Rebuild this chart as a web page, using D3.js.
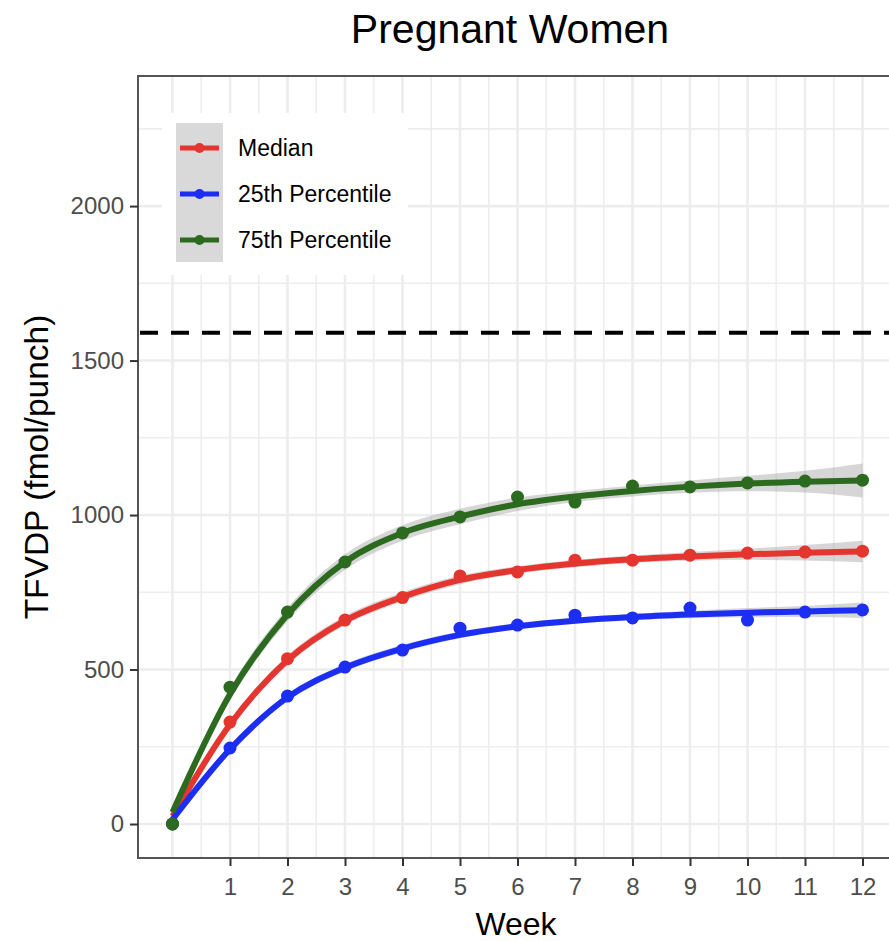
<!DOCTYPE html>
<html>
<head>
<meta charset="utf-8">
<script src="https://cdn.jsdelivr.net/npm/d3@7"></script>
<style>
  body { margin: 0; background: #fff; }
  text { font-family: "Liberation Sans", Arial, sans-serif; }
</style>
</head>
<body>
<div class="container"></div>
<script>
const weeks = [0, 1, 2, 3, 4, 5, 6, 7, 8, 9, 10, 11, 12];
const medianPts = [0, 330, 535, 660, 733, 803, 816, 854, 854, 870, 877, 880, 883];
const p25Pts    = [0, 246, 414, 508, 563, 634, 644, 676, 667, 699, 660, 686, 693];
const p75Pts    = [0, 443, 686, 848, 942, 994, 1058, 1042, 1094, 1091, 1104, 1110, 1113];

// smoothed fit (line) and half width of the grey band, also
const medianFit = [25, 322, 530, 658, 735, 790, 822, 843, 857, 866, 873, 878, 882];
const p25Fit    = [15, 242, 410, 506, 568, 612, 640, 658, 670, 678, 684, 688, 692];
const p75Fit    = [38, 420, 678, 848, 942, 995, 1035, 1060, 1078, 1092, 1102, 1108, 1112];
const medianBand = [8, 15, 15, 15, 15, 14, 12, 12, 12, 14, 18, 25, 35];
const p25Band    = [6, 12, 12, 12, 12, 11, 10, 10, 10, 12, 15, 18, 25];
const p75Band    = [10, 20, 22, 25, 25, 25, 22, 18, 18, 20, 25, 35, 55];

const xTicks = [1, 2, 3, 4, 5, 6, 7, 8, 9, 10, 11, 12];
const yTicks = [0, 500, 1000, 1500, 2000];
const refLine = 1590;

const seriesNames = ["Median", "25th Percentile", "75th Percentile"];
const seriesColors = ["#e5352f", "#1c2ef2", "#2c6a1f"];

const width = 889, height = 941;
const panel = { left: 138, top: 76, bottom: 858, right: 897 };

const svg = d3.select(".container").append("svg")
  .attr("width", width)
  .attr("height", height);

const x = d3.scaleLinear().domain([-0.6, 12.6]).range([panel.left, panel.right]);
const y = d3.scaleLinear().domain([-110, 2421]).range([panel.bottom, panel.top]);

// panel grid
const grid = svg.append("g");
d3.range(0, 12.51, 0.5).forEach(v => {
  grid.append("line").attr("x1", x(v)).attr("x2", x(v))
    .attr("y1", panel.top).attr("y2", panel.bottom)
    .attr("stroke", "#ededed").attr("stroke-width", Number.isInteger(v) ? 2.6 : 1.6);
});
d3.range(0, 2400, 250).forEach(v => {
  grid.append("line").attr("x1", panel.left).attr("x2", panel.right)
    .attr("y1", y(v)).attr("y2", y(v))
    .attr("stroke", "#ededed").attr("stroke-width", v % 500 === 0 ? 2.6 : 1.6);
});

const series = [
  { name: seriesNames[0], color: seriesColors[0], pts: medianPts, fit: medianFit, band: medianBand },
  { name: seriesNames[1], color: seriesColors[1], pts: p25Pts, fit: p25Fit, band: p25Band },
  { name: seriesNames[2], color: seriesColors[2], pts: p75Pts, fit: p75Fit, band: p75Band }
];

const area = d3.area()
  .x((d, i) => x(weeks[i]))
  .y0(d => y(d[0] - d[1]))
  .y1(d => y(d[0] + d[1]))
  .curve(d3.curveMonotoneX);

const line = d3.line()
  .x((d, i) => x(weeks[i]))
  .y(d => y(d))
  .curve(d3.curveMonotoneX);

series.forEach(s => {
  svg.append("path")
    .datum(s.fit.map((f, i) => [f, s.band[i]]))
    .attr("d", area)
    .attr("fill", "#999")
    .attr("opacity", 0.4);
});

series.forEach(s => {
  svg.append("path")
    .datum(s.fit)
    .attr("d", line)
    .attr("fill", "none")
    .attr("stroke", s.color)
    .attr("stroke-width", 6);
});

series.forEach(s => {
  svg.append("g").selectAll("circle")
    .data(s.pts)
    .enter()
    .append("circle")
    .attr("cx", (d, i) => x(weeks[i]))
    .attr("cy", d => y(d))
    .attr("r", 6.5)
    .attr("fill", s.color);
});

// reference dashed line
svg.append("line")
  .attr("x1", panel.left).attr("x2", panel.right)
  .attr("y1", y(refLine)).attr("y2", y(refLine))
  .attr("stroke", "#000")
  .attr("stroke-width", 4)
  .attr("stroke-dasharray", "18,13")
  .attr("stroke-dashoffset", -2);

// legend
const legend = svg.append("g");
legend.append("rect").attr("x", 162).attr("y", 113).attr("width", 246).attr("height", 162).attr("fill", "#fff");
legend.append("rect").attr("x", 176).attr("y", 123).attr("width", 47).attr("height", 139).attr("fill", "#d9d9d9");
series.forEach((s, i) => {
  const cy = 148 + i * 46;
  legend.append("line").attr("x1", 180).attr("x2", 219).attr("y1", cy).attr("y2", cy)
    .attr("stroke", s.color).attr("stroke-width", 5);
  legend.append("circle").attr("cx", 199.5).attr("cy", cy).attr("r", 5).attr("fill", s.color);
  legend.append("text").attr("x", 238).attr("y", cy + 8)
    .attr("font-size", 23).attr("fill", "#000").text(s.name);
});

// panel border
svg.append("rect")
  .attr("x", panel.left).attr("y", panel.top)
  .attr("width", panel.right - panel.left).attr("height", panel.bottom - panel.top)
  .attr("fill", "none").attr("stroke", "#555").attr("stroke-width", 2);

// axes
const xAxis = svg.append("g")
  .attr("transform", `translate(0,${panel.bottom})`)
  .call(d3.axisBottom(x).tickValues(xTicks).tickSize(8).tickSizeOuter(0).tickPadding(12));
xAxis.select(".domain").remove();
xAxis.selectAll(".tick line").attr("stroke", "#333").attr("stroke-width", 2);
xAxis.selectAll(".tick text").attr("font-size", 24).attr("fill", "#4d4d4d")
  .style("font-family", "'Liberation Sans', Arial, sans-serif");

const yAxis = svg.append("g")
  .attr("transform", `translate(${panel.left},0)`)
  .call(d3.axisLeft(y).tickValues(yTicks).tickFormat(d3.format("d")).tickSize(8).tickSizeOuter(0).tickPadding(6));
yAxis.select(".domain").remove();
yAxis.selectAll(".tick line").attr("stroke", "#333").attr("stroke-width", 2);
yAxis.selectAll(".tick text").attr("font-size", 24).attr("fill", "#4d4d4d")
  .style("font-family", "'Liberation Sans', Arial, sans-serif");

// titles
svg.append("text")
  .attr("x", 510).attr("y", 43)
  .attr("text-anchor", "middle")
  .attr("font-size", 41)
  .attr("fill", "#000")
  .text("Pregnant Women");

svg.append("text")
  .attr("x", 516).attr("y", 935)
  .attr("text-anchor", "middle")
  .attr("font-size", 32)
  .attr("fill", "#000")
  .text("Week");

svg.append("text")
  .attr("transform", `translate(48,${(panel.top + panel.bottom) / 2}) rotate(-90)`)
  .attr("text-anchor", "middle")
  .attr("font-size", 33.5)
  .attr("fill", "#000")
  .text("TFVDP (fmol/punch)");
</script>
</body>
</html>
